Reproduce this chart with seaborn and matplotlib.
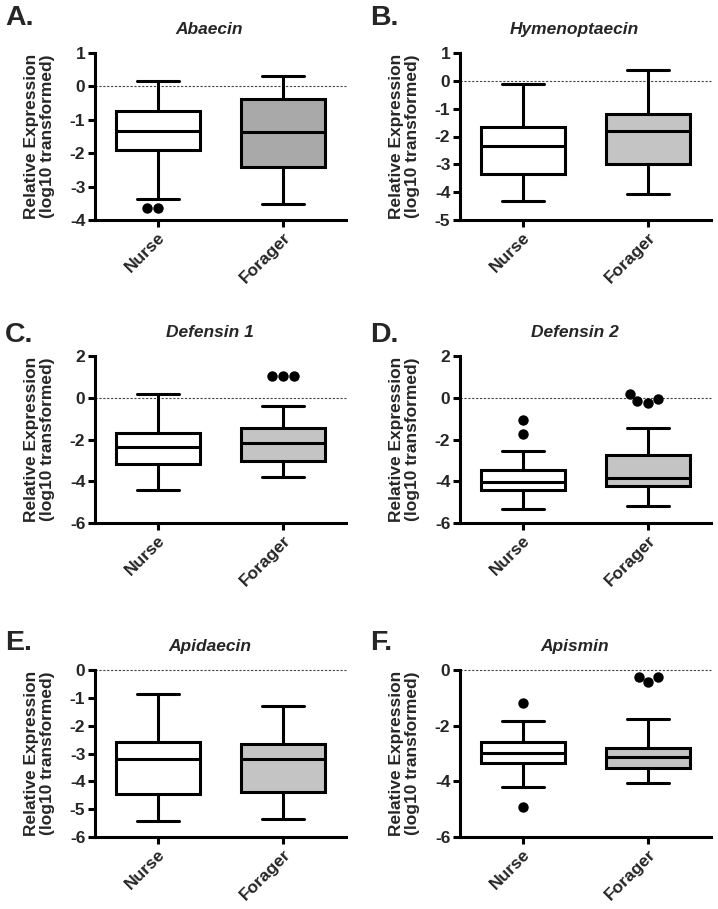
import matplotlib
matplotlib.use("Agg")
import matplotlib.pyplot as plt
import numpy as np
import pandas as pd
import seaborn as sns

genes = ["Abaecin", "Hymenoptaecin", "Defensin 1", "Defensin 2", "Apidaecin", "Apismin"]
panel_letters = ["A.", "B.", "C.", "D.", "E.", "F."]
groups = ["Nurse", "Forager"]

# five-number summaries: lower whisker, q1, median, q3, upper whisker
abaecin_nurse = [-3.38, -1.90, -1.35, -0.73, 0.15]
abaecin_forager = [-3.52, -2.40, -1.37, -0.38, 0.30]
hymenoptaecin_nurse = [-4.30, -3.33, -2.33, -1.67, -0.10]
hymenoptaecin_forager = [-4.06, -3.00, -1.80, -1.18, 0.38]
defensin1_nurse = [-4.41, -3.19, -2.35, -1.71, 0.16]
defensin1_forager = [-3.78, -3.03, -2.16, -1.43, -0.38]
defensin2_nurse = [-5.32, -4.41, -4.02, -3.46, -2.56]
defensin2_forager = [-5.20, -4.22, -3.83, -2.75, -1.44]
apidaecin_nurse = [-5.42, -4.44, -3.20, -2.58, -0.86]
apidaecin_forager = [-5.34, -4.38, -3.18, -2.66, -1.30]
apismin_nurse = [-4.19, -3.35, -2.97, -2.57, -1.82]
apismin_forager = [-4.05, -3.52, -3.11, -2.80, -1.77]

# outlying points
abaecin_nurse_out = [-3.63, -3.63]
abaecin_forager_out = []
hymenoptaecin_nurse_out = []
hymenoptaecin_forager_out = []
defensin1_nurse_out = []
defensin1_forager_out = [1.05, 1.05, 1.05]
defensin2_nurse_out = [-1.08, -1.75]
defensin2_forager_out = [-0.05, -0.25, -0.16, 0.19]
apidaecin_nurse_out = []
apidaecin_forager_out = []
apismin_nurse_out = [-1.18, -4.93]
apismin_forager_out = [-0.24, -0.42, -0.24]

nurse_stats = [abaecin_nurse, hymenoptaecin_nurse, defensin1_nurse,
               defensin2_nurse, apidaecin_nurse, apismin_nurse]
forager_stats = [abaecin_forager, hymenoptaecin_forager, defensin1_forager,
                 defensin2_forager, apidaecin_forager, apismin_forager]
nurse_out = [abaecin_nurse_out, hymenoptaecin_nurse_out, defensin1_nurse_out,
             defensin2_nurse_out, apidaecin_nurse_out, apismin_nurse_out]
forager_out = [abaecin_forager_out, hymenoptaecin_forager_out,
               defensin1_forager_out, defensin2_forager_out,
               apidaecin_forager_out, apismin_forager_out]

y_limits = [(-4, 1), (-5, 1), (-6, 2), (-6, 2), (-6, 0), (-6, 0)]
y_steps = [1, 1, 2, 2, 1, 2]
forager_fill = ["#a9a9a9", "#c4c4c4", "#c4c4c4", "#c4c4c4", "#c4c4c4", "#c4c4c4"]

sns.set_style("ticks")
plt.rcParams["font.family"] = ["Liberation Sans", "DejaVu Sans"]
plt.rcParams["font.weight"] = "bold"
plt.rcParams["axes.labelweight"] = "bold"
plt.rcParams["axes.unicode_minus"] = False

W, H = 718, 909
fig = plt.figure(figsize=(W / 100, H / 100), dpi=100)

col_left = [95, 460]
row_bottom = [220, 523, 837]
letter_x = [5, 370]
letter_base = [25, 342, 650]
lw = 2.2

for i, gene in enumerate(genes):
    col, row = i % 2, i // 2
    ax = fig.add_axes([col_left[col] / W, 1 - row_bottom[row] / H,
                       251 / W, 167 / H])

    box_df = pd.DataFrame({
        "group": ["Nurse"] * 5 + ["Forager"] * 5,
        "value": nurse_stats[i] + forager_stats[i],
    })
    sns.boxplot(data=box_df, x="group", y="value", hue="group", order=groups,
                hue_order=groups, palette=["white", forager_fill[i]],
                saturation=1, whis=(0, 100), width=0.67, linecolor="black",
                linewidth=lw, legend=False, ax=ax)

    out_df = pd.DataFrame({
        "group": ["Nurse"] * len(nurse_out[i]) + ["Forager"] * len(forager_out[i]),
        "value": nurse_out[i] + forager_out[i],
    })
    if len(out_df):
        sns.swarmplot(data=out_df, x="group", y="value", order=groups,
                      color="black", size=7.5, linewidth=0, ax=ax)

    ax.axhline(0, color="#444444", lw=0.8, ls=(0, (2, 1.5)), zorder=0.5,
               clip_on=False)

    lo, hi = y_limits[i]
    ax.set_ylim(lo, hi)
    ax.set_yticks(np.arange(lo, hi + 0.1, y_steps[i]))
    ax.set_xlim(-0.5, 1.5)
    sns.despine(ax=ax)
    for side in ["left", "bottom"]:
        ax.spines[side].set_linewidth(lw)
        ax.spines[side].set_color("black")
    ax.tick_params(axis="both", direction="out", length=5, width=lw,
                   color="black", labelsize=12.5, pad=2)

    ax.set_title(gene, style="italic", fontweight="bold", fontsize=12.5,
                 x=0.456, pad=14)
    ax.set_xlabel("")
    ax.set_ylabel("Relative Expression\n(log10 transformed)", fontsize=12.5,
                  fontweight="bold", linespacing=1.05)
    ax.yaxis.set_label_coords(-0.16, 0.5)
    plt.setp(ax.get_xticklabels(), rotation=45, ha="right", va="top",
             rotation_mode="anchor", fontweight="bold")
    plt.setp(ax.get_yticklabels(), fontweight="bold")

    fig.text(letter_x[col] / W, 1 - letter_base[row] / H, panel_letters[i],
             fontsize=20.5, fontweight="bold", va="baseline")

fig.savefig("out.png", dpi=100)
